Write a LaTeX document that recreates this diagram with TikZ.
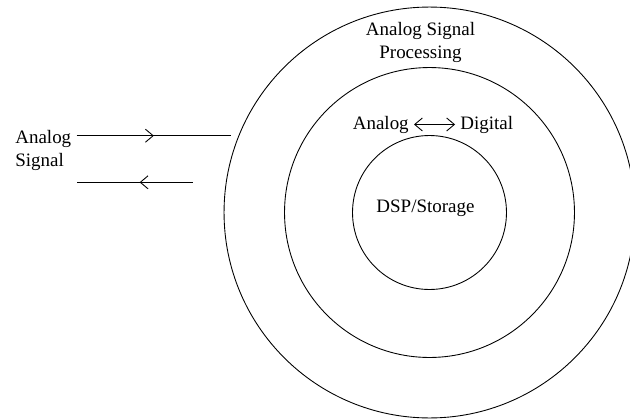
\documentclass[tikz,border=0pt]{standalone}
\usepackage{fontspec}
\setmainfont{Liberation Serif}
\usetikzlibrary{arrows.meta,decorations.markings}
\tikzset{
  ring/.style={circle, draw, inner sep=0pt, line width=0.5pt},
  txt/.style={font=\fontsize{10.8}{12.9}\selectfont, inner sep=2.8pt},
  midarrow/.style={line width=0.5pt, postaction={decorate},
    decoration={markings, mark=at position #1 with {\arrow{Straight Barb[length=4.4pt,width=7.4pt]}}}}
}
\begin{document}
\begin{tikzpicture}[x=0.02cm, y=-0.02cm]
\useasboundingbox (0,0) rectangle (630,420);

% Rings
\node[ring, minimum size=8.22cm] (outer) at (429.5,212.5) {};
\node[ring, minimum size=5.8cm] (middle) at (429.5,212.5) {};
\node[ring, minimum size=3.08cm] (core) at (429.5,212.5) {};

% Ring labels
\node[txt, align=center] (asp) at (420.5,42.6) {Analog Signal\\Processing};
\node[txt, anchor=base] (ana) at (380.8,129) {Analog};
\node[txt, anchor=base] (dig) at (486.7,129) {Digital};
\draw[line width=0.5pt, {Straight Barb[length=4.4pt,width=7.4pt]}-{Straight Barb[length=4.4pt,width=7.4pt]}] (ana) -- (dig);
\node[txt, anchor=base] (dsp) at (425.5,212.7) {DSP/Storage};

% Signal in and out
\node[txt, align=left, anchor=west] (sig) at (10.1,150.2) {Analog\\Signal};
\coordinate (inA) at (76.7,135.7);
\coordinate (inB) at (231,135.7);
\coordinate (outA) at (192.7,182.3);
\coordinate (outB) at (77.3,182.3);
\draw[midarrow=0.5] (inA) -- (inB);
\draw[midarrow=0.46] (outA) -- (outB);
\end{tikzpicture}
\end{document}
